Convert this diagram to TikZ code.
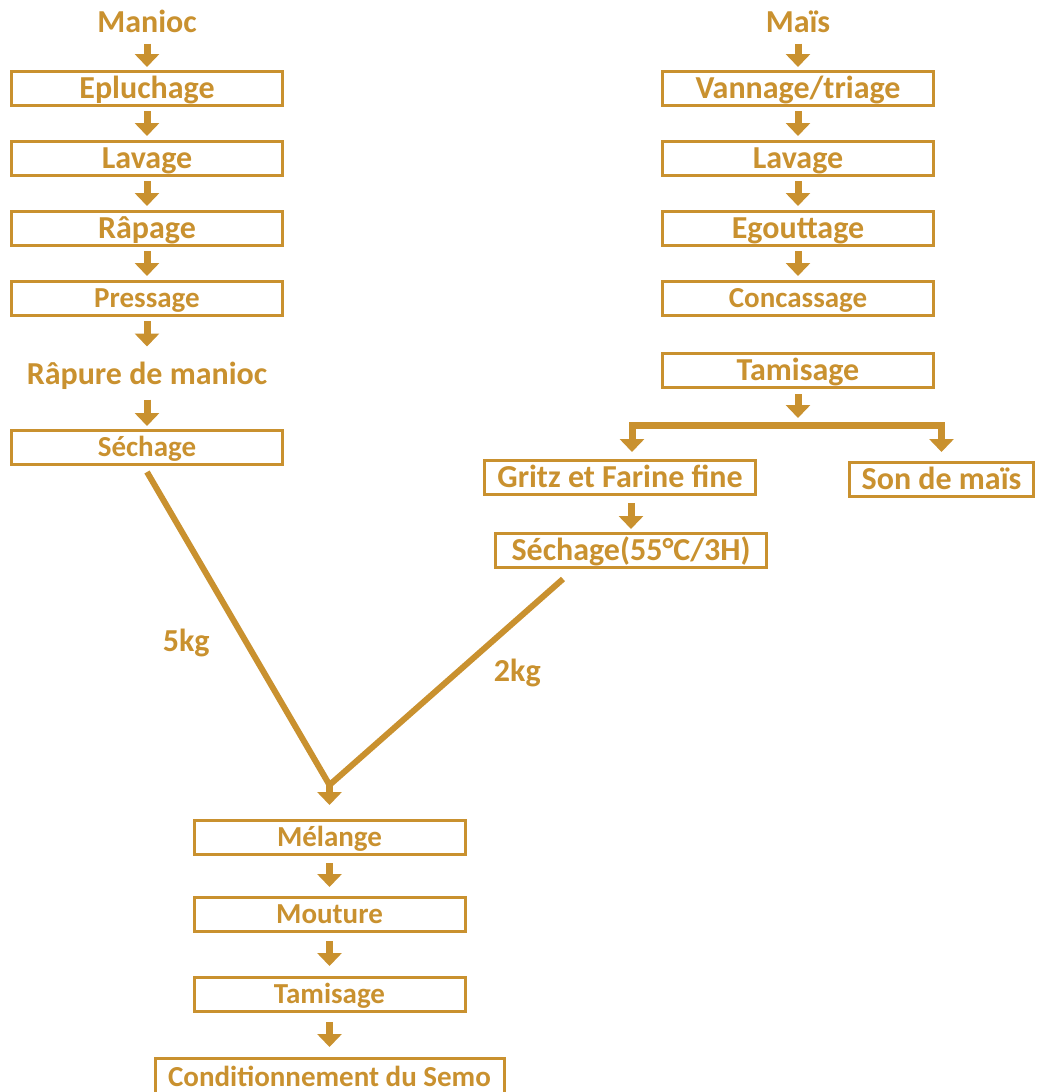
\documentclass[tikz,border=0pt]{standalone}
\usepackage{fontspec}
\setmainfont{Carlito}
\usepackage{tikz}
\usetikzlibrary{arrows.meta, positioning}
\definecolor{semogold}{HTML}{C9912F}

\begin{document}
\begin{tikzpicture}[
      x=1pt, y=-1pt,
      stepbox/.style={draw=semogold, line width=3pt, minimum width=271pt, minimum height=34pt, inner sep=0pt, text=semogold, text height=20.5pt, text depth=0pt, font=\fontsize{32}{38}\selectfont\bfseries},
      smallstep/.style={stepbox, text height=18.6pt, font=\fontsize{29}{35}\selectfont\bfseries},
      heading/.style={text=semogold, minimum height=37pt, inner sep=0pt, outer sep=0pt, text height=20.5pt, text depth=0pt, font=\fontsize{32}{38}\selectfont\bfseries},
      flow/.style={-{Triangle[width=24pt, length=13pt]}, line width=7pt, draw=semogold, shorten <=4pt, shorten >=4pt},
      link/.style={line width=6pt, draw=semogold, line join=round}
  ]
    \useasboundingbox (0,0) rectangle (1042,1092);

    % manioc line
    \node[heading] (manioc) at (147,22) {Manioc};
    \node[stepbox, below=29.5pt of manioc] (epluch) {Epluchage};
    \node[stepbox, below=33pt of epluch] (lavageL) {Lavage};
    \node[stepbox, below=33pt of lavageL] (rapage) {Râpage};
    \node[smallstep, below=33pt of rapage] (pressage) {Pressage};
    \node[heading, below=38.5pt of pressage] (rapure) {Râpure de manioc};
    \node[smallstep, below=36.5pt of rapure] (sechageL) {Séchage};

    % maize line
    \node[heading] (mais) at (798,22) {Maïs};
    \node[stepbox, below=29.5pt of mais] (vannage) {Vannage/triage};
    \node[stepbox, below=33pt of vannage] (lavageR) {Lavage};
    \node[stepbox, below=33pt of lavageR] (egout) {Egouttage};
    \node[smallstep, below=33pt of egout] (concass) {Concassage};
    \node[stepbox, below=35pt of concass] (tamisR) {Tamisage};
    \node[stepbox] (gritz) at (620,477.5) {Gritz et Farine fine};
    \node[stepbox, minimum width=184pt] (son) at (941.5,479.5) {Son de maïs};
    \node[stepbox, below=36pt of gritz, xshift=11pt] (sechageR) {Séchage(55°C/3H)};

    % common end
    \node[smallstep] (melange) at (329.5,837.5) {Mélange};
    \node[smallstep, below=40pt of melange] (mouture) {Mouture};
    \node[smallstep, below=43pt of mouture] (tamisB) {Tamisage};
    \node[smallstep, minimum width=349pt, minimum height=37pt, below=44pt of tamisB] (condit) {Conditionnement du Semo};

    \coordinate[below=36pt of tamisR] (split);
    \coordinate[above=34pt of melange] (join);

    \draw[flow, shorten <=3pt, shorten >=3pt] (manioc) -- (epluch);
    \draw[flow] (epluch) -- (lavageL);
    \draw[flow] (lavageL) -- (rapage);
    \draw[flow] (rapage) -- (pressage);
    \draw[flow, shorten >=9pt] (pressage) -- (rapure);
    \draw[flow, shorten <=7pt, shorten >=3pt] (rapure) -- (sechageL);

    \draw[flow, shorten <=3pt, shorten >=3pt] (mais) -- (vannage);
    \draw[flow] (vannage) -- (lavageR);
    \draw[flow] (lavageR) -- (egout);
    \draw[flow] (egout) -- (concass);
    \draw[flow, shorten <=5pt, shorten >=7pt] (tamisR) -- (split);
    \draw[flow, shorten <=0pt, shorten >=7pt] (split) -| ([xshift=12pt]gritz.north);
    \draw[flow, shorten <=0pt, shorten >=9pt] (split) -| (son.north);
    \draw[flow, shorten <=7pt, shorten >=3pt] ([xshift=11pt]gritz.south) -- (sechageR);

    \draw[link] ([yshift=-6pt]sechageL.south) -- node[pos=.54, left=36pt, heading] (kgmanioc) {5kg} (join)
      -- node[pos=.55, right=36pt, heading] (kgmais) {2kg} ([xshift=-68pt, yshift=-10pt]sechageR.south);
    \draw[flow, shorten <=0pt, shorten >=14pt] (join) -- (melange);

    \draw[flow, shorten <=7pt, shorten >=9pt] (melange) -- (mouture);
    \draw[flow, shorten <=8pt, shorten >=10pt] (mouture) -- (tamisB);
    \draw[flow, shorten <=9pt, shorten >=10pt] (tamisB) -- (condit);
  \end{tikzpicture}
\end{document}
